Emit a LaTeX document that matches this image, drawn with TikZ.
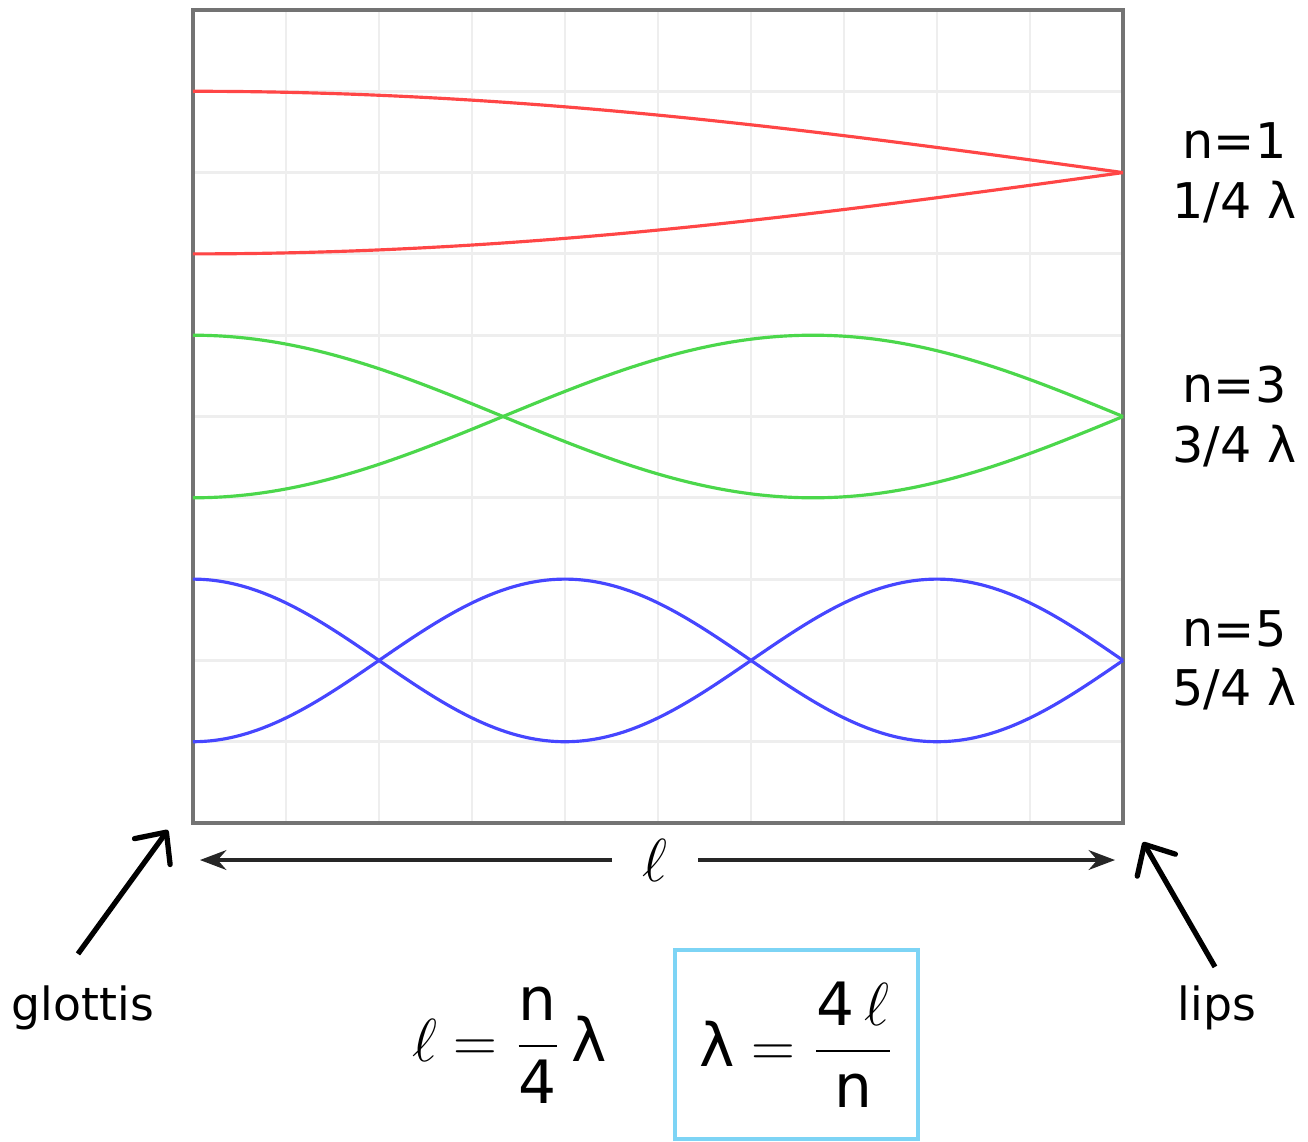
\documentclass[tikz,border=0pt]{standalone}
\usepackage{amsmath}
\usepackage{fontspec}
\setmainfont{DejaVu Sans}
\usetikzlibrary{arrows.meta,positioning}
\definecolor{framecol}{RGB}{115,115,115}
\definecolor{gridcol}{RGB}{238,238,238}
\definecolor{redwave}{RGB}{255,70,70}
\definecolor{greenwave}{RGB}{75,215,75}
\definecolor{bluewave}{RGB}{70,70,255}
\definecolor{boxcol}{RGB}{125,212,245}

\begin{document}
\begin{tikzpicture}[x=0.93cm,y=0.813cm,>=Stealth,
  wave/.style={line width=0.9pt,smooth,samples=120},
  pointer/.style={line width=1.5pt,-{Straight Barb[round,length=2.4mm,width=4.4mm]}},
  modelabel/.style={align=center,font=\fontsize{14}{17}\selectfont},
  bigtext/.style={font=\fontsize{17}{20}\selectfont}]
  \useasboundingbox (-2.075,-3.911) rectangle (11.989,10.123);
  % the tube, ten squares along and across
  \foreach \i in {1,...,9}
    {\draw[gridcol,line width=0.8pt] (\i,0) -- (\i,10);
     \draw[gridcol,line width=0.8pt] (0,\i) -- (10,\i);}
  \draw[framecol,line width=1.3pt] (0,0) rectangle (10,10);
  % envelopes of the odd modes: antinode at the glottis, node at the lips
  \foreach \n/\yc/\col in {1/8/redwave,3/5/greenwave,5/2/bluewave}{
    \draw[wave,\col] plot[domain=0:10] (\x,{\yc+cos(9*\n*\x)});
    \draw[wave,\col] plot[domain=0:10] (\x,{\yc-cos(9*\n*\x)});
    \node[modelabel] (mode\n) at (11.2,\yc) {n=\n\\\n/4 λ};
  }
  % length of the tube
  \node[bigtext,inner xsep=3mm] (len) at (4.97,-0.455) {$\ell$};
  \coordinate (lenL) at (0.075,-0.455);
  \coordinate (lenR) at (9.914,-0.455);
  \draw[->,line width=1pt,black!85] (len.west) -- (lenL);
  \draw[->,line width=1pt,black!85] (len.east) -- (lenR);
  % ends of the tube
  \node[font=\fontsize{13}{16}\selectfont,anchor=base] (glottis) at (-1.183,-2.423) {glottis};
  \node[font=\fontsize{13}{16}\selectfont,anchor=base] (lips) at (11.01,-2.423) {lips};
  \coordinate (glottisTip) at (-0.269,-0.086);
  \coordinate (lipsTip) at (10.215,-0.234);
  \draw[pointer] ([xshift=-0.5mm,yshift=1.9mm]glottis.north) -- (glottisTip);
  \draw[pointer] ([xshift=-0.2mm,yshift=0.6mm]lips.north) -- (lipsTip);
  % the two forms of the relation
  \node[bigtext] (nform) at (3.40,-2.73) {$\ell = \dfrac{\text{n}}{\text{4}}\,\text{λ}$};
  \node[bigtext,draw=boxcol,line width=1.2pt,minimum width=2.43cm,minimum height=1.89cm]
    (lamform) at (6.49,-2.725) {$\text{λ} = \dfrac{\text{4}\,\ell}{\text{n}}$};
\end{tikzpicture}
\end{document}
